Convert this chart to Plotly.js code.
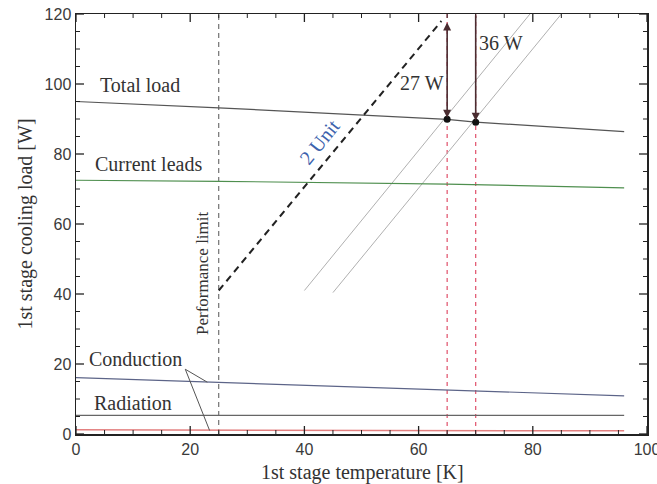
<!DOCTYPE html>
<html>
<head>
<meta charset="utf-8">
<script src="https://cdn.plot.ly/plotly-3.0.1.min.js"></script>
<style>html,body{margin:0;padding:0;background:#fff;}#chart{width:657px;height:484px;}</style>
</head>
<body>
<div id="chart"></div>
<script>
// ---- data ----
const temps = [0, 25, 65, 70, 96];
const totalLoad = [95.0, 93.2, 89.9, 89.1, 86.4];
const leadTemps = [0, 25, 65, 96];
const currentLeads = [72.5, 72.2, 71.4, 70.3];
const conduction = [16.1, 14.8, 12.6, 10.9];
const radTemps = [0, 96];
const radiation = [5.3, 5.3];
const otherLoad = [1.2, 0.9];
const unitAX = [40, 79.5], unitAY = [41, 120];
const unitBX = [45, 85], unitBY = [40.4, 120];
const twoUnitX = [25, 64], twoUnitY = [41, 118];
const perfLimitX = [25, 25], fullY = [0, 120];
const opPointX = [65, 70], opPointY = [89.9, 89.1];
const unitTop = [117.6, 120];
const leaderX = [23.0, 19.14, 23.4], leaderY = [14.8, 18.5, 1.0];
const marginLabels = ['27 W', '36 W'];
const xRange = [0, 100], yRange = [0, 120];
const majorStep = 20, minorStep = 5;

const serif = 'Liberation Serif, Times New Roman, serif';
const sans = 'Liberation Sans, Arial, sans-serif';

const W = 657, H = 484;
const M = {l: 75.6, r: 9.7, t: 13.5, b: 49.7};
const plotW = W - M.l - M.r, plotH = H - M.t - M.b;

function line(x, y, color, width, dash) {
  return {x: x, y: y, type: 'scatter', mode: 'lines', hoverinfo: 'skip', cliponaxis: false,
          line: {color: color, width: width, dash: dash || 'solid'}, showlegend: false};
}

// inside tick marks on all four sides, as line segments in axis units
function tickTrace(isMajor) {
  const tx = [], ty = [];
  const lenPx = isMajor ? 8 : 4;
  const dy = lenPx * (yRange[1] - yRange[0]) / plotH;
  const dx = lenPx * (xRange[1] - xRange[0]) / plotW;
  function major(v) { return Math.abs(v / majorStep - Math.round(v / majorStep)) < 1e-9; }
  for (let v = xRange[0]; v <= xRange[1] + 1e-9; v += minorStep) {
    if (major(v) !== isMajor) continue;
    tx.push(v, v, null, v, v, null);
    ty.push(yRange[0], yRange[0] + dy, null, yRange[1], yRange[1] - dy, null);
  }
  for (let v = yRange[0]; v <= yRange[1] + 1e-9; v += minorStep) {
    if (major(v) !== isMajor) continue;
    tx.push(xRange[0], xRange[0] + dx, null, xRange[1], xRange[1] - dx, null);
    ty.push(v, v, null, v, v, null);
  }
  return line(tx, ty, '#222', isMajor ? 1.3 : 1);
}

const traces = [
  line(perfLimitX, fullY, '#555', 1, '5px,4px'),
  line([opPointX[0], opPointX[0]], fullY, '#e0506a', 1.2, '4px,4px'),
  line([opPointX[1], opPointX[1]], fullY, '#e0506a', 1.2, '4px,4px'),
  line(unitAX, unitAY, '#b0b0b0', 1),
  line(unitBX, unitBY, '#b0b0b0', 1),
  line(temps, totalLoad, '#555', 1.2),
  line(leadTemps, currentLeads, '#4f8f4f', 1.2),
  line(leadTemps, conduction, '#5c6488', 1.2),
  line(radTemps, radiation, '#666', 1.2),
  line(radTemps, otherLoad, '#e38080', 1.5),
  line(leaderX, leaderY, '#555', 1),
  line(twoUnitX, twoUnitY, '#222', 2, '7px,5px'),
  {x: opPointX, y: opPointY, type: 'scatter', mode: 'markers', hoverinfo: 'skip', showlegend: false,
   marker: {color: '#111', size: 7}},
  tickTrace(true),
  tickTrace(false)
];

function txt(x, y, s, size, extra) {
  return Object.assign({x: x, y: y, xref: 'x', yref: 'y', text: s, showarrow: false,
    font: {family: serif, size: size, color: '#333'}}, extra || {});
}

const annotations = [
  txt(11.26, 99.6, 'Total load', 20),
  txt(12.75, 77.25, 'Current leads', 20),
  txt(10.48, 21.4, 'Conduction', 20),
  txt(9.99, 9.0, 'Radiation', 20),
  txt(22.06, 46.0, 'Performance limit', 17, {textangle: -90}),
  txt(42.6, 83.5, '2 Unit', 20, {textangle: -51, font: {family: serif, size: 20, color: '#3d63ad'}}),
  txt(60.58, 100.4, marginLabels[0], 20),
  txt(74.4, 111.8, marginLabels[1], 20),
  {x: 0.502, y: -0.091, xref: 'paper', yref: 'paper', text: '1st stage temperature [K]', showarrow: false,
   xanchor: 'center', yanchor: 'middle', font: {family: serif, size: 20, color: '#333'}},
  {x: opPointX[0], y: unitTop[0], ax: opPointX[0], ay: opPointY[0], xref: 'x', yref: 'y', axref: 'x', ayref: 'y',
   text: '', showarrow: true, arrowhead: 2, arrowside: 'end+start', arrowsize: 1, arrowwidth: 1.6, arrowcolor: '#4a2c30'},
  {x: opPointX[1], y: opPointY[1] + 0.4, ax: opPointX[1], ay: unitTop[1], xref: 'x', yref: 'y', axref: 'x', ayref: 'y',
   text: '', showarrow: true, arrowhead: 2, arrowsize: 1, arrowwidth: 1.6, arrowcolor: '#4a2c30'}
];

function axisStyle(r) {
  return {
    range: r, tickmode: 'linear', tick0: 0, dtick: majorStep,
    ticks: '', showline: true, linecolor: '#222', linewidth: 1.5, mirror: true,
    showgrid: false, zeroline: false, ticklabeloverflow: 'allow',
    tickfont: {family: sans, size: 16, color: '#3a3a3a'}
  };
}

const layout = {
  width: W, height: H,
  margin: M,
  paper_bgcolor: '#fff', plot_bgcolor: '#fff',
  showlegend: false,
  xaxis: axisStyle(xRange),
  yaxis: Object.assign(axisStyle(yRange), {
    title: {text: '1st stage cooling load [W]', font: {family: serif, size: 20, color: '#333'}, standoff: 6}
  }),
  annotations: annotations
};

Plotly.newPlot('chart', traces, layout, {displayModeBar: false, staticPlot: true});
</script>
</body>
</html>
